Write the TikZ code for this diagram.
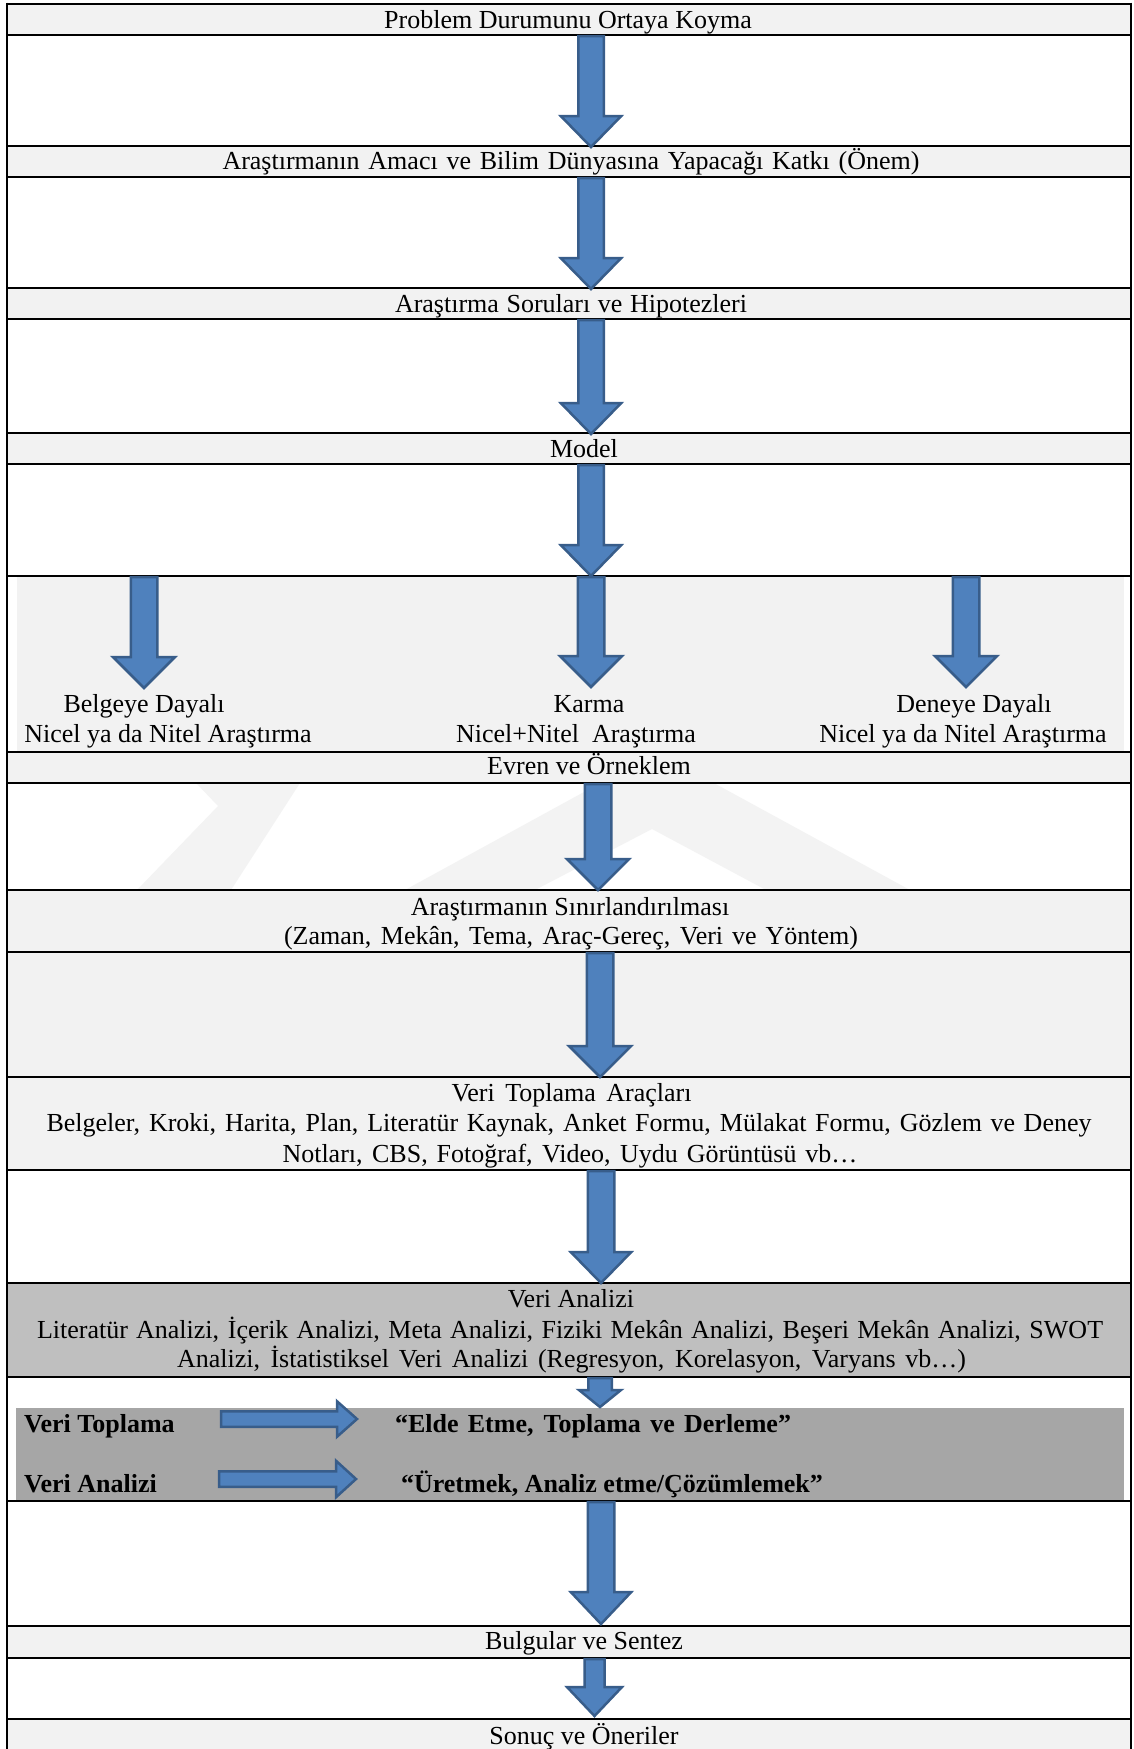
\documentclass[tikz,border=0pt]{standalone}
\usepackage{fontspec}
\setmainfont{Liberation Serif}
\usetikzlibrary{calc}

\definecolor{rowgray}{HTML}{F2F2F2}
\definecolor{midgray}{HTML}{BFBFBF}
\definecolor{darkband}{HTML}{A6A6A6}
\definecolor{arrowfill}{HTML}{4F81BD}
\definecolor{arrowedge}{HTML}{385D8A}
\definecolor{markgray}{HTML}{F3F3F3}

% downward block arrow: from, to, shaft half width, head half width, head length
\newcommand\vblock[5]{%
  \draw[blockarrow] let \p1=(#1), \p2=(#2) in
    (\x1-#3pt,\y1) -- (\x1+#3pt,\y1) -- (\x1+#3pt,\y2+#5pt) -- (\x1+#4pt,\y2+#5pt)
    -- (\x1,\y2) -- (\x1-#4pt,\y2+#5pt) -- (\x1-#3pt,\y2+#5pt) -- cycle;}
% rightward block arrow: from, to, shaft half height, head half height, head length
\newcommand\hblock[5]{%
  \draw[blockarrow] let \p1=(#1), \p2=(#2) in
    (\x1,\y1+#3pt) -- (\x2-#5pt,\y1+#3pt) -- (\x2-#5pt,\y1+#4pt) -- (\x2,\y1)
    -- (\x2-#5pt,\y1-#4pt) -- (\x2-#5pt,\y1-#3pt) -- (\x1,\y1-#3pt) -- cycle;}
% a text line spread to a given width
\newcommand\spreadline[2]{\makebox[#1pt][s]{#2}}

\begin{document}
\begin{tikzpicture}[x=1pt,y=-1pt,
  blockarrow/.style={fill=arrowfill,draw=arrowedge,line width=2.5pt,line join=miter},
  rule/.style={line width=2.6pt},
  lbl/.style={anchor=base,inner sep=0pt,font=\fontsize{26}{30}\selectfont},
  boldlbl/.style={anchor=base west,inner sep=0pt,font=\fontsize{26}{30}\selectfont\bfseries},
  boldmid/.style={anchor=base,inner sep=0pt,font=\fontsize{26}{30}\selectfont\bfseries}]

\useasboundingbox (0,0) rectangle (1133,1749);
\fill[white] (0,0) rectangle (1133,1749);

% shaded rows
\fill[rowgray] (7,4) rectangle (1131,35);
\fill[rowgray] (7,146) rectangle (1131,177);
\fill[rowgray] (7,288) rectangle (1131,319);
\fill[rowgray] (7,433) rectangle (1131,464);
\fill[rowgray] (17,576) rectangle (1124,752);
\fill[rowgray] (7,752) rectangle (1131,783);
\fill[rowgray] (7,890) rectangle (1131,1170);
\fill[midgray] (7,1283) rectangle (1131,1377);
\fill[darkband] (16,1408) rectangle (1124,1501);
\fill[rowgray] (7,1626) rectangle (1131,1658);
\fill[rowgray] (7,1719) rectangle (1131,1749);

% faint background emblem
\begin{scope}
  \clip (7,783) rectangle (1131,890);
  \fill[markgray] (137,890) -- (218,806) -- (196,783) -- (300,783) -- (231,890) -- cycle;
  \fill[markgray] (405,890) -- (657,752) -- (910,890) -- (766,890) -- (652,829) -- (535,890) -- cycle;
\end{scope}

% table rules
\foreach \yy in {4,35,146,177,288,319,433,464,576,752,783,890,952,1077,1170,1283,1377,1501,1626,1658,1719}
  \draw[rule] (7,\yy) -- (1131,\yy);
\draw[rule] (7,2.7) -- (7,1749);
\draw[rule] (1131,2.7) -- (1131,1749);

% arrow end points
\coordinate (a1s) at (591,36);   \coordinate (a1e) at (591,147);
\coordinate (a2s) at (591,178);  \coordinate (a2e) at (591,289);
\coordinate (a3s) at (591,320);  \coordinate (a3e) at (591,434);
\coordinate (a4s) at (591,465);  \coordinate (a4e) at (591,576);
\coordinate (b1s) at (144,577);  \coordinate (b1e) at (144,688);
\coordinate (b2s) at (591,577);  \coordinate (b2e) at (591,687);
\coordinate (b3s) at (966,577);  \coordinate (b3e) at (966,687);
\coordinate (a5s) at (598,784);  \coordinate (a5e) at (598,890);
\coordinate (a6s) at (600,953);  \coordinate (a6e) at (600,1077);
\coordinate (a7s) at (601,1171); \coordinate (a7e) at (601,1283);
\coordinate (a8s) at (600,1378); \coordinate (a8e) at (600,1407);
\coordinate (a9s) at (601,1502); \coordinate (a9e) at (601,1624);
\coordinate (a10s) at (594.5,1659); \coordinate (a10e) at (594.5,1716);
\coordinate (h1s) at (221,1419); \coordinate (h1e) at (357,1419);
\coordinate (h2s) at (219,1479); \coordinate (h2e) at (356,1479);

% block arrows
\vblock{a1s}{a1e}{12.75}{30.25}{31}
\vblock{a2s}{a2e}{12.75}{30.25}{31}
\vblock{a3s}{a3e}{12.75}{30.25}{31}
\vblock{a4s}{a4e}{12.75}{30.25}{31}
\vblock{b1s}{b1e}{13.25}{31}{31}
\vblock{b2s}{b2e}{13.25}{31}{31}
\vblock{b3s}{b3e}{13.25}{31}{31}
\vblock{a5s}{a5e}{13.25}{31}{31}
\vblock{a6s}{a6e}{13.25}{31}{31}
\vblock{a7s}{a7e}{13.25}{30.25}{31}
\vblock{a8s}{a8e}{11.75}{21}{17}
\vblock{a9s}{a9e}{13.25}{30.25}{32}
\vblock{a10s}{a10e}{10}{27.5}{29}
\hblock{h1s}{h1e}{7.75}{17.75}{20}
\hblock{h2s}{h2e}{7.75}{18.25}{20}

% row texts
\node[lbl] (t1) at (568,28.5) {Problem Durumunu Ortaya Koyma};
\node[lbl] (t2) at (571,169.5) {\spreadline{697}{Araştırmanın Amacı ve Bilim Dünyasına Yapacağı Katkı (Önem)}};
\node[lbl] (t3) at (571,312.5) {\spreadline{352}{Araştırma Soruları ve Hipotezleri}};
\node[lbl] (t4) at (584,457) {Model};
\node[lbl] (m1a) at (144,712) {Belgeye Dayalı};
\node[lbl] (m1b) at (168,742) {Nicel ya da Nitel Araştırma};
\node[lbl] (m2a) at (589,712) {Karma};
\node[lbl] (m2b) at (576,742) {Nicel+Nitel\ \ Araştırma};
\node[lbl] (m3a) at (974,712) {Deneye Dayalı};
\node[lbl] (m3b) at (963,742) {Nicel ya da Nitel Araştırma};
\node[lbl] (t5) at (589,774) {Evren ve Örneklem};
\node[lbl] (t6a) at (570,915) {Araştırmanın Sınırlandırılması};
\node[lbl] (t6b) at (571,944) {\spreadline{574}{(Zaman, Mekân, Tema, Araç-Gereç, Veri ve Yöntem)}};
\node[lbl] (t7a) at (571.5,1101) {\spreadline{240}{Veri Toplama Araçları}};
\node[lbl] (t7b) at (569,1131) {\spreadline{1045}{Belgeler, Kroki, Harita, Plan, Literatür Kaynak, Anket Formu, Mülakat Formu, Gözlem ve Deney}};
\node[lbl] (t7c) at (570,1162) {\spreadline{575}{Notları, CBS, Fotoğraf, Video, Uydu Görüntüsü vb…}};
\node[lbl] (t8a) at (571,1307) {Veri Analizi};
\node[lbl] (t8b) at (570,1338) {\spreadline{1066}{Literatür Analizi, İçerik Analizi, Meta Analizi, Fiziki Mekân Analizi, Beşeri Mekân Analizi, SWOT}};
\node[lbl] (t8c) at (571.5,1367) {\spreadline{789}{Analizi, İstatistiksel Veri Analizi (Regresyon, Korelasyon, Varyans vb…)}};
\node[boldlbl] (k1) at (24,1432) {Veri Toplama};
\node[boldmid] (k1d) at (593,1432) {\spreadline{396}{“Elde Etme, Toplama ve Derleme”}};
\node[boldlbl] (k2) at (24,1492) {Veri Analizi};
\node[boldmid] (k2d) at (612,1492) {“Üretmek, Analiz etme/Çözümlemek”};
\node[lbl] (t9) at (584,1649) {Bulgular ve Sentez};
\node[lbl] (t10) at (584,1744) {Sonuç ve Öneriler};

\end{tikzpicture}
\end{document}
